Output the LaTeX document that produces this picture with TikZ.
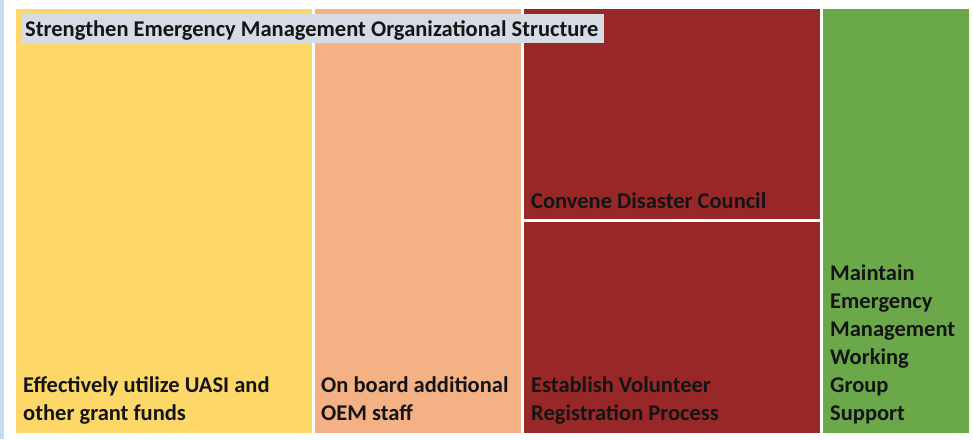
\documentclass[tikz,border=0pt]{standalone}
\usepackage{fontspec}
\setmainfont{Carlito}
\definecolor{cyel}{HTML}{FDD868}
\definecolor{cora}{HTML}{F4B183}
\definecolor{cred}{HTML}{982828}
\definecolor{cgrn}{HTML}{6AA84A}
\definecolor{ctit}{HTML}{D6DCE4}
\definecolor{cblu}{HTML}{C6DAF0}
\definecolor{ctxt}{HTML}{141414}
\begin{document}
\begin{tikzpicture}[x=1pt,y=-1pt,
  tile/.style={draw=none},
  lbl/.style={anchor=base west,inner sep=0pt,text=ctxt,font=\fontsize{22.5}{28}\selectfont\bfseries,align=left}]
\useasboundingbox (0,0) rectangle (973,439);
\fill[white] (0,0) rectangle (973,439);
\fill[cblu] (0,0) rectangle (4,439);
\fill[cyel] (15.5,9) rectangle (312,433) coordinate (yel);
\fill[cora] (314.5,9) rectangle (521,433);
\fill[cred] (523.5,9) rectangle (819.5,218.5);
\fill[cred] (523.5,221.5) rectangle (819.5,433);
\fill[cgrn] (822.5,9) rectangle (969,433);
\node[fill=ctit,anchor=north west,minimum width=583.5pt,minimum height=28.5pt,inner sep=0pt] (title) at (20.5,14) {};
\node[lbl] (t0) at (25,36.5) {Strengthen Emergency Management Organizational Structure};
\node[lbl] (t1) at (23,420) {Effectively utilize UASI and\\other grant funds};
\node[lbl] (t2) at (321,420) {On board additional\\OEM staff};
\node[lbl] (t3) at (531,208) {Convene Disaster Council};
\node[lbl] (t4) at (531,420) {Establish Volunteer\\Registration Process};
\node[lbl] (t5) at (830,420) {Maintain\\Emergency\\Management\\Working\\Group\\Support};
\end{tikzpicture}
\end{document}
